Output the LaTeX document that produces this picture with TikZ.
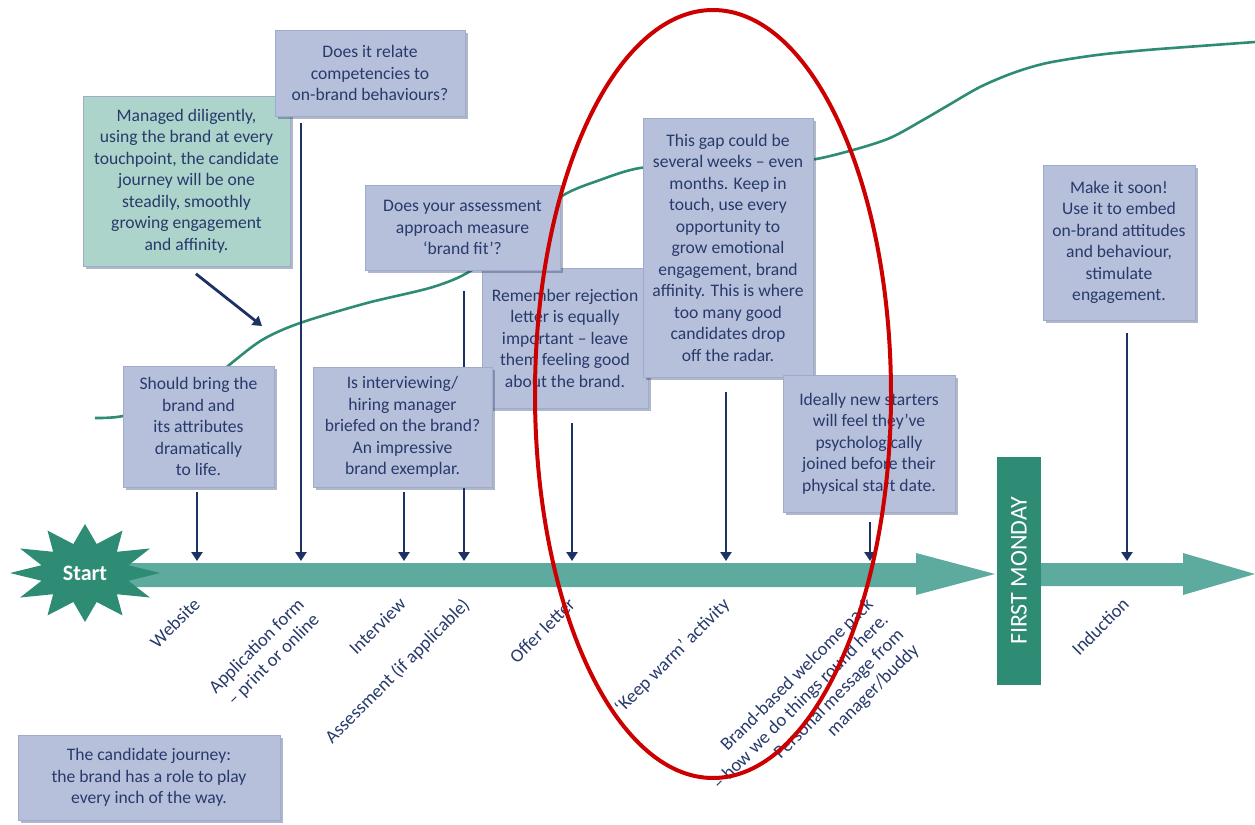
\documentclass[tikz,border=0pt]{standalone}
\usepackage{fontspec}
\setmainfont{Carlito}
\usetikzlibrary{arrows.meta, positioning, shapes.geometric, shadows}

\definecolor{JourneyTeal}{RGB}{93,171,158}
\definecolor{JourneyDark}{RGB}{46,139,116}
\definecolor{NoteLilac}{RGB}{183,192,218}
\definecolor{NoteEdge}{RGB}{160,170,203}
\definecolor{NoteMint}{RGB}{172,212,202}
\definecolor{InkNavy}{RGB}{40,58,108}
\definecolor{ArrowNavy}{RGB}{28,50,100}
\definecolor{RingRed}{RGB}{204,0,0}

\tikzset{
  note/.style={rectangle, draw=NoteEdge, fill=#1, line width=0.4pt,
               drop shadow={shadow xshift=1.6pt, shadow yshift=-1.6pt,
                            fill=ArrowNavy, opacity=0.35},
               font=\fontsize{8.8}{10.75}\selectfont, text=InkNavy,
               align=center, inner sep=2pt},
  note/.default=NoteLilac,
  pointer/.style={-{Triangle[width=5.5pt, length=4.5pt]}, line width=1.4pt,
                  draw=ArrowNavy},
  stagelabel/.style={rotate=45, anchor=north east, align=right, inner sep=1pt,
                     font=\fontsize{9.3}{10.75}\selectfont, text=InkNavy},
}

\begin{document}
\begin{tikzpicture}[x=0.5pt, y=-0.5pt]

  \useasboundingbox (0,0) rectangle (1255,825);

  %% ENGAGEMENT CURVE (behind everything)
  \draw[JourneyDark, line width=1.3pt] plot[smooth, tension=0.5] coordinates {
    (95,418) (123,416) (170,401) (205,386) (228,366) (262,340) (300,323)
    (367,303) (433,287) (472,270) (518,232) (562,196) (600,180) (640,168)
    (700,164) (760,162) (810,160) (853,150) (890,138) (923,120) (947,106)
    (980,87) (1013,73) (1047,63) (1097,55) (1147,50) (1200,46) (1255,42)};
  \coordinate (onCurve) at (262,326);

  %% TIMELINE
  \fill[JourneyTeal] (120,563) -- (916,563) -- (916,553) -- (995,574)
    -- (916,595) -- (916,587) -- (120,587) -- cycle;
  \fill[JourneyTeal] (1041,563) -- (1183,563) -- (1183,553) -- (1255,574)
    -- (1183,595) -- (1183,586) -- (1041,586) -- cycle;

  \fill[JourneyDark, shift={(85,573)}] (0:75 and 49)
    \foreach \a in {15,45,...,345} { -- (\a:45 and 30) -- (\a+15:75 and 49) } -- cycle;
  \node[font=\fontsize{11}{13}\selectfont\bfseries, text=white] (start) at (85,573) {Start};

  \node[fill=JourneyDark, text=white, rotate=90, minimum width=114pt,
        minimum height=22pt, font=\fontsize{12}{14}\selectfont] (monday)
       at (1019,571) {FIRST MONDAY};

  %% stage points on the timeline
  \coordinate (s-web)  at (197,561);
  \coordinate (s-app)  at (301,561);
  \coordinate (s-int)  at (404,561);
  \coordinate (s-ass)  at (464,561);
  \coordinate (s-off)  at (572,561);
  \coordinate (s-keep) at (726,561);
  \coordinate (s-pack) at (870,561);
  \coordinate (s-ind)  at (1127,561);

  %% NOTES
  \node[note=NoteMint, minimum width=103.5pt, minimum height=85pt] (diligent)
       at (186.5,181) {Managed diligently,\\using the brand at every\\touchpoint, the candidate\\journey will be one\\steadily, smoothly\\growing engagement\\and affinity.};
  \draw[pointer, shorten <=6pt] (diligent.south) -- (onCurve);

  \node[note, minimum width=95pt, minimum height=43pt] (relate)
       at (370,73) {Does it relate\\competencies to\\on-brand behaviours?};
  \draw[pointer, shorten <=3.5pt] (relate.south -| s-app) -- (s-app);

  \node[note, minimum width=75.5pt, minimum height=60.5pt] (site)
       at (198.5,426.5) {Should bring the\\brand and\\its attributes\\dramatically\\to life.};
  \draw[pointer, shorten <=2.5pt] (site.south -| s-web) -- (s-web);

  \node[note, minimum width=83pt, minimum height=70pt] (reject)
       at (565,338) {Remember rejection\\letter is equally\\important -- leave\\them feeling good\\about the brand.};
  \draw[pointer, shorten <=7.5pt] (reject.south -| s-off) -- (s-off);

  \node[note, minimum width=97.5pt, minimum height=42.5pt] (assess)
       at (462.5,227.5) {Does your assessment\\approach measure\\‘brand fit’?};
  \draw[pointer, shorten <=10.5pt] (assess.south -| s-ass) -- (s-ass);

  \node[note, minimum width=89.5pt, minimum height=60pt] (interview)
       at (402.5,427) {Is interviewing/\\hiring manager\\briefed on the brand?\\An impressive\\brand exemplar.};
  \draw[pointer, shorten <=2.5pt] (interview.south -| s-int) -- (s-int);

  \node[note, minimum width=85pt, minimum height=129.5pt] (gap)
       at (728,247.5) {This gap could be\\several weeks -- even\\months. Keep in\\touch, use every\\opportunity to\\grow emotional\\engagement, brand\\affinity. This is where\\too many good\\candidates drop\\off the radar.};
  \draw[pointer, shorten <=7.5pt] (gap.south -| s-keep) -- (s-keep);

  \node[note, minimum width=86pt, minimum height=68.5pt] (joined)
       at (869,443.5) {Ideally new starters\\will feel they’ve\\psychologically\\joined before their\\physical start date.};
  \draw[pointer, shorten <=5pt] (joined.south -| s-pack) -- (s-pack);

  \node[note, minimum width=76pt, minimum height=77.5pt] (soon)
       at (1119,242.5) {Make it soon!\\Use it to embed\\on-brand attitudes\\and behaviour,\\stimulate\\engagement.};
  \draw[pointer, shorten <=6.5pt] (soon.south -| s-ind) -- (s-ind);

  \node[note, minimum width=131pt, minimum height=42.5pt] (caption)
       at (149,777.5) {The candidate journey:\\the brand has a role to play\\every inch of the way.};

  %% STAGE LABELS
  \node[stagelabel] (l-web)  at (192,593)  {Website};
  \node[stagelabel] (l-app)  at (296,593)  {Application form\\– print or online};
  \node[stagelabel] (l-int)  at (398,593)  {Interview};
  \node[stagelabel] (l-ass)  at (461,593)  {Assessment (if applicable)};
  \node[stagelabel] (l-off)  at (567,593)  {Offer letter};
  \node[stagelabel] (l-keep) at (721,593)  {‘Keep warm’ activity};
  \node[stagelabel] (l-pack) at (865,593)  {Brand-based welcome pack\\– how we do things round here.\\Personal message from\\manager/buddy};
  \node[stagelabel] (l-ind)  at (1121,593) {Induction};

  %% HIGHLIGHT
  \node[draw=RingRed, line width=2pt, ellipse, minimum width=178pt,
        minimum height=384pt, inner sep=0pt] (focus) at (713,394) {};

\end{tikzpicture}
\end{document}
